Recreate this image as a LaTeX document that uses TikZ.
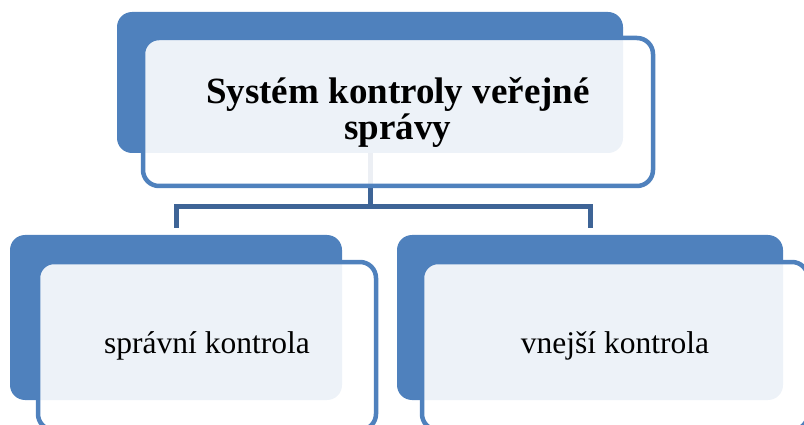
\documentclass[tikz,border=0pt]{standalone}
\usepackage{fontspec}
\setmainfont{Liberation Serif}
\usetikzlibrary{positioning}

\definecolor{boxblue}{RGB}{79,129,189}
\definecolor{linkblue}{RGB}{62,100,150}

\begin{document}
\begin{tikzpicture}[x=1pt, y=-1pt,
    back/.style = {fill=boxblue, rounded corners=15pt, inner sep=0pt},
    front/.style = {draw=boxblue, line width=4.5pt, fill=white, fill opacity=0.9,
        text opacity=1, rounded corners=16pt, inner sep=0pt, align=center},
    link/.style = {draw=linkblue, line width=5pt}]
    \useasboundingbox (0,0) rectangle (804,425);
    % Nodes
    \node[back, minimum width=506pt, minimum height=141pt] (topback) at (370, 82.5) {};
    \node[back, minimum width=332pt, minimum height=165pt] (leftback) at (176, 317.5) {};
    \node[back, minimum width=386pt, minimum height=165pt] (rightback) at (590, 317.5) {};

    \coordinate (fork) at (370, 207);
    % Edges
    \draw[link, shorten >=7pt] (topback.south) -- (fork) -| (leftback.north);
    \draw[link, shorten >=7pt] (fork) -| (rightback.north);

    \node[front, minimum width=510pt, minimum height=148pt,
        font=\fontsize{37}{36}\selectfont\bfseries] (topfront) at (398, 112)
        {Systém kontroly veřejné\\správy};
    \node[front, minimum width=338pt, minimum height=168pt,
        font=\fontsize{31.5}{36}\selectfont] (leftfront) at (207, 346) {správní kontrola};
    \node[front, minimum width=386pt, minimum height=168pt,
        font=\fontsize{31.5}{36}\selectfont] (rightfront) at (615, 346) {vnejší kontrola};
\end{tikzpicture}
\end{document}
